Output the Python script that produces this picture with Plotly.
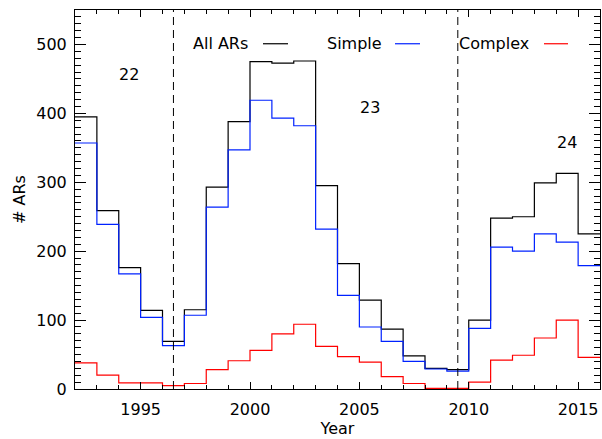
import plotly.graph_objects as go

years = [1992, 1993, 1994, 1995, 1996, 1997, 1998, 1999, 2000, 2001, 2002, 2003,
         2004, 2005, 2006, 2007, 2008, 2009, 2010, 2011, 2012, 2013, 2014, 2015]
all_ars = [395, 259, 176, 114, 69, 115, 293, 388, 475, 473, 476, 295,
           182, 129, 87, 48, 30, 28, 100, 248, 250, 299, 313, 225]
simple = [357, 239, 167, 104, 63, 107, 264, 347, 419, 393, 382, 232,
          136, 90, 69, 40, 29, 26, 88, 206, 200, 225, 213, 179]
complex_ = [38, 20, 9, 9, 5, 8, 28, 41, 56, 80, 94, 62,
            47, 39, 18, 8, 1, 1, 10, 42, 49, 74, 100, 46]

cycle_bounds = [1996.5, 2009.5]
cycle_labels = ["22", "23", "24"]
cycle_label_pos = [(1994.47, 457), (2005.5, 409), (2014.49, 358)]

legend_names = ["All ARs", "Simple", "Complex"]
legend_colors = ["black", "#0022ff", "#ff0000"]

FONT = "DejaVu Sans"
edges = years + [years[-1] + 1]

fig = go.Figure()
for vals, col in [(all_ars, legend_colors[0]), (simple, legend_colors[1]), (complex_, legend_colors[2])]:
    fig.add_trace(go.Scatter(x=edges, y=vals + [vals[-1]], mode="lines",
                             line=dict(color=col, width=1.2, shape="hv"),
                             showlegend=False, hoverinfo="skip"))

for b in cycle_bounds:
    fig.add_shape(type="line", x0=b, x1=b, y0=0, y1=1, xref="x", yref="paper",
                  line=dict(color="black", width=1, dash="8px,5px"))

for lab, (lx, ly) in zip(cycle_labels, cycle_label_pos):
    fig.add_annotation(x=lx, y=ly, text=lab, showarrow=False,
                       xanchor="center", yanchor="middle",
                       font=dict(family=FONT, size=16, color="black"))

# legend (text then line sample), in paper coordinates
leg_text_x = [220, 354, 494]
leg_line = [(263, 288), (395, 420), (544, 568)]
leg_y = 43.5
L, R, B, T = 75, 600, 389.3, 9.7
def px(xp):
    return (xp - L) / (R - L)
def py(yp):
    return (B - yp) / (B - T)
for name, col, tx, (l0, l1) in zip(legend_names, legend_colors, leg_text_x, leg_line):
    fig.add_annotation(x=px(tx), y=py(leg_y), xref="paper", yref="paper", text=name,
                       xanchor="center", yanchor="middle",
                       showarrow=False, font=dict(family=FONT, size=16, color="black"))
    fig.add_shape(type="line", x0=px(l0), x1=px(l1), y0=py(leg_y), y1=py(leg_y),
                  xref="paper", yref="paper", line=dict(color=col, width=1.2))

fig.update_layout(
    width=602, height=439,
    margin=dict(l=75, r=2, t=10, b=50),
    paper_bgcolor="white", plot_bgcolor="white",
    font=dict(family=FONT, size=16, color="black"),
)
fig.update_xaxes(range=[1992, 2016], tick0=1995, dtick=5, ticks="inside", ticklen=7,
                 tickcolor="black", showline=True, linecolor="black", linewidth=1,
                 mirror="ticks", showgrid=False, zeroline=False,
                 minor=dict(ticks="inside", ticklen=4, dtick=1, tickcolor="black", showgrid=False),
                 title=dict(text="Year", standoff=4, font=dict(size=16)),
                 ticklabelstandoff=6)
fig.update_yaxes(range=[0, 550], tick0=0, dtick=100, ticks="inside", ticklen=11,
                 tickcolor="black", showline=True, linecolor="black", linewidth=1,
                 mirror="ticks", showgrid=False, zeroline=False,
                 minor=dict(ticks="inside", ticklen=6, dtick=10, tickcolor="black", showgrid=False),
                 title=dict(text="# ARs", standoff=6, font=dict(size=16)),
                 ticklabelstandoff=4)

fig.write_html("out.html")
